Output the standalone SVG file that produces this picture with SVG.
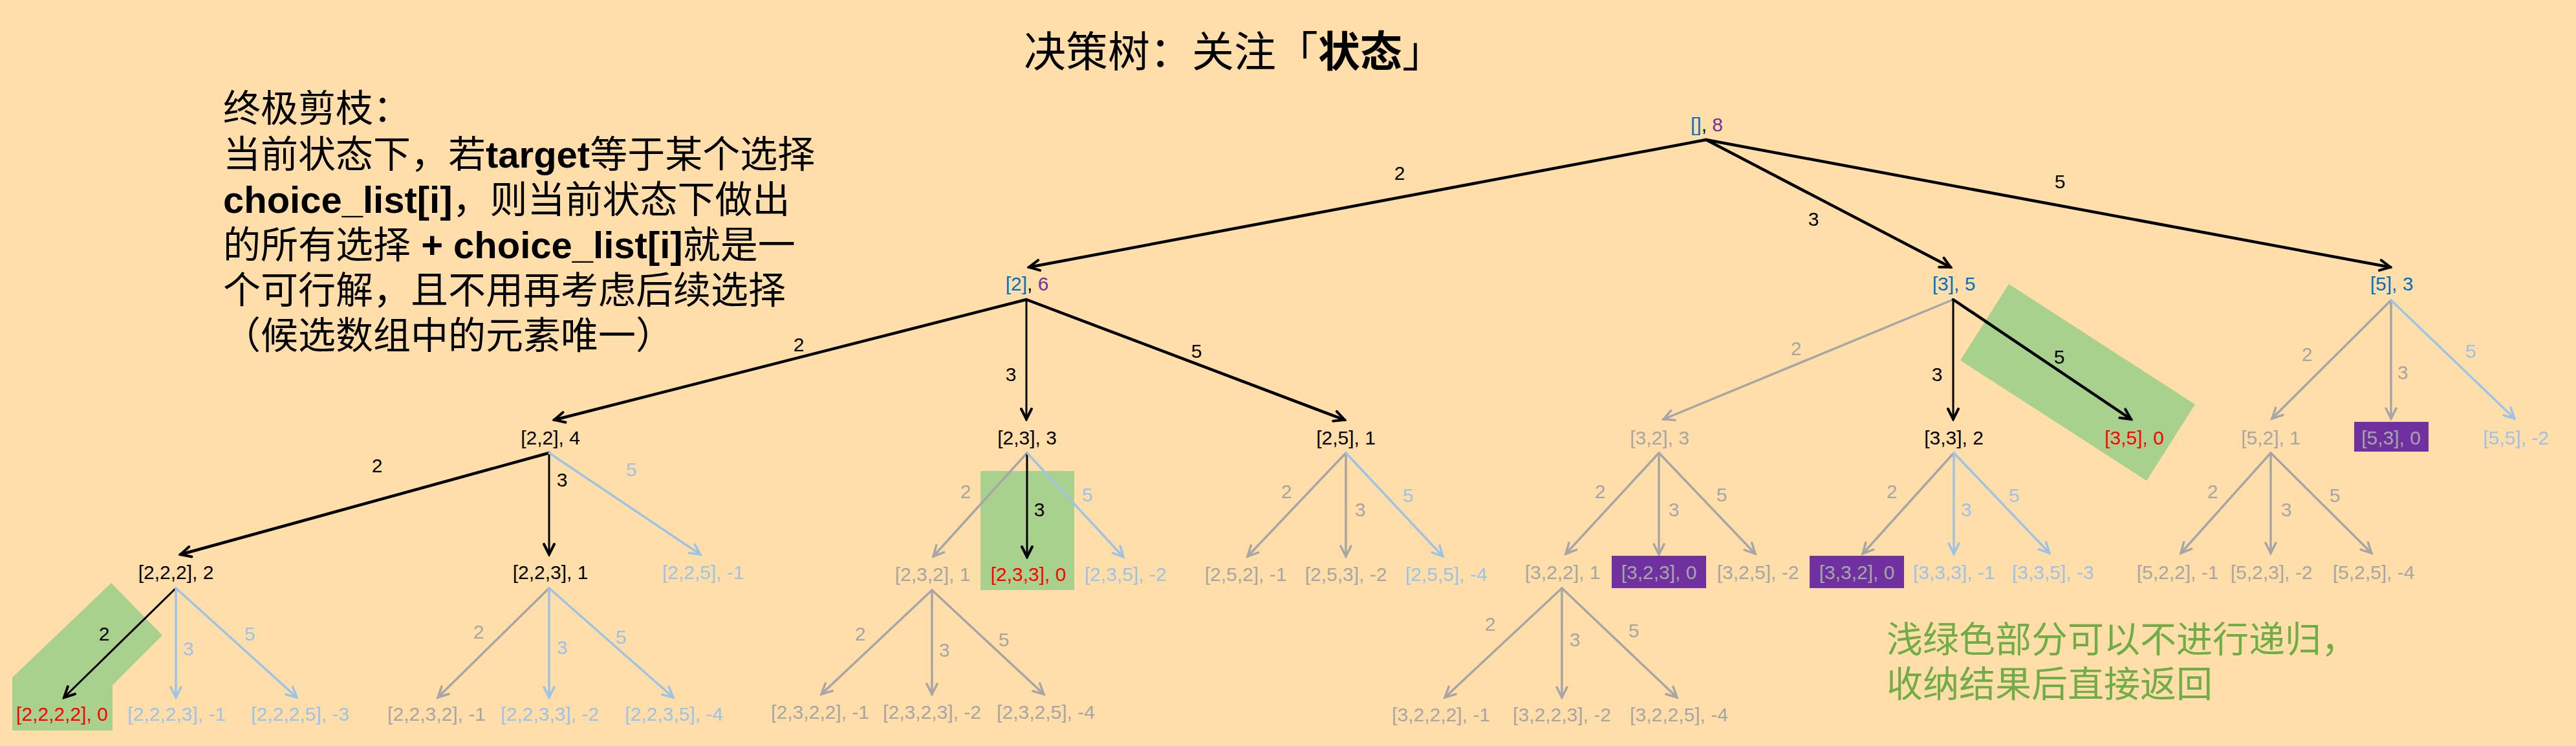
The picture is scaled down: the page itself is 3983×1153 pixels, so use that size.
<svg xmlns="http://www.w3.org/2000/svg" width="3983" height="1153" viewBox="0 0 3983 1153">
<style>
.t{font-family:"Liberation Sans",Arial,sans-serif;font-size:30px;text-anchor:middle}
.cj{font-family:"Liberation Sans","Noto Sans CJK SC",sans-serif}
.k{fill:#000}.g{fill:#A6A6A6}.b{fill:#9DC3E6}.r{fill:#FF0000}.bl{fill:#0070C0}.p{fill:#7030A0}
.e{fill:none;stroke-linecap:round}
.ek{stroke:#000;stroke-width:3}.ekw{stroke:#000;stroke-width:4.5}
.eg{stroke:#A6A6A6;stroke-width:3.5}.eb{stroke:#9DC3E6;stroke-width:3.5}
.box{fill:#7030A0}
.hl{fill:#A9D18E}
</style>
<defs>
<marker id="ak" markerUnits="userSpaceOnUse" markerWidth="24" markerHeight="24" viewBox="0 0 24 24" refX="21" refY="12" orient="auto"><path d="M5,4 L21,12 L5,20" fill="none" stroke="#000" stroke-width="4" stroke-linecap="round" stroke-linejoin="miter"/></marker>
<marker id="ag" markerUnits="userSpaceOnUse" markerWidth="24" markerHeight="24" viewBox="0 0 24 24" refX="21" refY="12" orient="auto"><path d="M5,4 L21,12 L5,20" fill="none" stroke="#A6A6A6" stroke-width="3.5" stroke-linecap="round"/></marker>
<marker id="ab" markerUnits="userSpaceOnUse" markerWidth="24" markerHeight="24" viewBox="0 0 24 24" refX="21" refY="12" orient="auto"><path d="M5,4 L21,12 L5,20" fill="none" stroke="#9DC3E6" stroke-width="3.5" stroke-linecap="round"/></marker>
</defs>
<rect x="0" y="0" width="3983" height="1153" fill="#FFDEA9"/>

<g id="highlights">
<polygon class="hl" points="172,901 251,982 174,1059 174,1129 19,1129 19,1047"/>
<rect class="hl" x="1516" y="728" width="145" height="184"/>
<polygon class="hl" points="3106,439 3394,625 3319,743 3031,557"/>
</g>

<g id="title">
<text class="cj" x="1583" y="103" font-size="65" fill="#000">决策树：关注「<tspan font-weight="bold">状态</tspan>」</text>
</g>

<g id="note-left" class="cj" font-size="58" fill="#000">
<text x="345" y="188">终极剪枝：</text>
<text x="345" y="259">当前状态下，若<tspan font-weight="bold">target</tspan>等于某个选择</text>
<text x="345" y="329"><tspan font-weight="bold">choice_list[i]</tspan>，则当前状态下做出</text>
<text x="345" y="399">的所有选择<tspan font-weight="bold"> + choice_list[i]</tspan>就是一</text>
<text x="345" y="469">个可行解，且不用再考虑后续选择</text>
<text x="345" y="539">（候选数组中的元素唯一）</text>
</g>

<g id="note-right" class="cj" font-size="56" fill="#70AD47">
<text x="2917" y="1008">浅绿色部分可以不进行递归，</text>
<text x="2917" y="1077">收纳结果后直接返回</text>
</g>

<g id="connectors">
<line class="e ekw" x1="2638" y1="216" x2="1591" y2="413" marker-end="url(#ak)"/>
<line class="e ekw" x1="2638" y1="216" x2="3016" y2="413" marker-end="url(#ak)"/>
<line class="e ekw" x1="2638" y1="216" x2="3696" y2="413" marker-end="url(#ak)"/>
<line class="e ekw" x1="1587" y1="463" x2="857" y2="649" marker-end="url(#ak)"/>
<line class="e ek" x1="1587" y1="463" x2="1587" y2="648" marker-end="url(#ak)"/>
<line class="e ekw" x1="1587" y1="463" x2="2079" y2="649" marker-end="url(#ak)"/>
<line class="e eg" x1="3020" y1="463" x2="2572" y2="648" marker-end="url(#ag)"/>
<line class="e ek" x1="3020" y1="463" x2="3020" y2="648" marker-end="url(#ak)"/>
<line class="e ekw" x1="3020" y1="463" x2="3295" y2="648" marker-end="url(#ak)"/>
<line class="e eg" x1="3697" y1="464" x2="3513" y2="647" marker-end="url(#ag)"/>
<line class="e eg" x1="3697" y1="464" x2="3697" y2="647" marker-end="url(#ag)"/>
<line class="e eb" x1="3697" y1="464" x2="3888" y2="647" marker-end="url(#ab)"/>
<line class="e ekw" x1="849" y1="700" x2="279" y2="857" marker-end="url(#ak)"/>
<line class="e ek" x1="849" y1="700" x2="849" y2="857" marker-end="url(#ak)"/>
<line class="e eb" x1="849" y1="700" x2="1083" y2="857" marker-end="url(#ab)"/>
<line class="e eg" x1="1588" y1="700" x2="1443" y2="860" marker-end="url(#ag)"/>
<line class="e ek" x1="1588" y1="700" x2="1588" y2="861" marker-end="url(#ak)"/>
<line class="e eb" x1="1588" y1="700" x2="1737" y2="861" marker-end="url(#ab)"/>
<line class="e eg" x1="2081" y1="700" x2="1929" y2="860" marker-end="url(#ag)"/>
<line class="e eg" x1="2081" y1="700" x2="2081" y2="860" marker-end="url(#ag)"/>
<line class="e eb" x1="2081" y1="700" x2="2231" y2="860" marker-end="url(#ab)"/>
<line class="e eg" x1="2565" y1="700" x2="2421" y2="856" marker-end="url(#ag)"/>
<line class="e eg" x1="2565" y1="700" x2="2565" y2="857" marker-end="url(#ag)"/>
<line class="e eg" x1="2565" y1="700" x2="2714" y2="856" marker-end="url(#ag)"/>
<line class="e eg" x1="3021" y1="700" x2="2880" y2="856" marker-end="url(#ag)"/>
<line class="e eb" x1="3021" y1="700" x2="3021" y2="856" marker-end="url(#ab)"/>
<line class="e eb" x1="3021" y1="700" x2="3169" y2="855" marker-end="url(#ab)"/>
<line class="e eg" x1="3511" y1="700" x2="3372" y2="855" marker-end="url(#ag)"/>
<line class="e eg" x1="3511" y1="700" x2="3511" y2="855" marker-end="url(#ag)"/>
<line class="e eg" x1="3511" y1="700" x2="3667" y2="855" marker-end="url(#ag)"/>
<line class="e ek" x1="272" y1="909" x2="99" y2="1078" marker-end="url(#ak)"/>
<line class="e eb" x1="272" y1="909" x2="272" y2="1078" marker-end="url(#ab)"/>
<line class="e eb" x1="272" y1="909" x2="459" y2="1078" marker-end="url(#ab)"/>
<line class="e eg" x1="849" y1="909" x2="677" y2="1078" marker-end="url(#ag)"/>
<line class="e eb" x1="849" y1="909" x2="849" y2="1078" marker-end="url(#ab)"/>
<line class="e eb" x1="849" y1="909" x2="1041" y2="1078" marker-end="url(#ab)"/>
<line class="e eg" x1="1441" y1="912" x2="1270" y2="1073" marker-end="url(#ag)"/>
<line class="e eg" x1="1441" y1="912" x2="1441" y2="1073" marker-end="url(#ag)"/>
<line class="e eg" x1="1441" y1="912" x2="1614" y2="1073" marker-end="url(#ag)"/>
<line class="e eg" x1="2415" y1="909" x2="2234" y2="1078" marker-end="url(#ag)"/>
<line class="e eg" x1="2415" y1="909" x2="2415" y2="1078" marker-end="url(#ag)"/>
<line class="e eg" x1="2415" y1="909" x2="2593" y2="1078" marker-end="url(#ag)"/>

<g id="edge-labels" class="t">
<text class="k" x="2164" y="278">2</text>
<text class="k" x="2804" y="349">3</text>
<text class="k" x="3185" y="291">5</text>
<text class="k" x="1235" y="543">2</text>
<text class="k" x="1563" y="589">3</text>
<text class="k" x="1850" y="553">5</text>
<text class="g" x="2777" y="549">2</text>
<text class="k" x="2995" y="589">3</text>
<text class="k" x="3184" y="562">5</text>
<text class="g" x="3567" y="558">2</text>
<text class="g" x="3715" y="586">3</text>
<text class="b" x="3820" y="553">5</text>
<text class="k" x="583" y="730">2</text>
<text class="k" x="869" y="752">3</text>
<text class="b" x="976" y="736">5</text>
<text class="g" x="1493" y="770">2</text>
<text class="k" x="1607" y="798">3</text>
<text class="b" x="1681" y="775">5</text>
<text class="g" x="1989" y="770">2</text>
<text class="g" x="2103" y="798">3</text>
<text class="b" x="2177" y="776">5</text>
<text class="g" x="2474" y="770">2</text>
<text class="g" x="2588" y="798">3</text>
<text class="g" x="2662" y="775">5</text>
<text class="g" x="2925" y="770">2</text>
<text class="b" x="3040" y="798">3</text>
<text class="b" x="3114" y="776">5</text>
<text class="g" x="3421" y="770">2</text>
<text class="g" x="3535" y="798">3</text>
<text class="g" x="3610" y="776">5</text>
<text class="k" x="161" y="990">2</text>
<text class="b" x="291" y="1013">3</text>
<text class="b" x="386" y="990">5</text>
<text class="g" x="740" y="987">2</text>
<text class="b" x="869" y="1011">3</text>
<text class="b" x="960" y="995">5</text>
<text class="g" x="1330" y="990">2</text>
<text class="g" x="1460" y="1015">3</text>
<text class="g" x="1552" y="999">5</text>
<text class="g" x="2304" y="975">2</text>
<text class="g" x="2435" y="999">3</text>
<text class="g" x="2526" y="985">5</text>
</g>
</g>

<g id="nodes" class="t">
<g id="n-root"><text x="2639" y="203"><tspan class="bl">[]</tspan><tspan class="k">, </tspan><tspan class="p">8</tspan></text></g>
<g id="n-2"><text x="1588" y="449"><tspan class="bl">[2]</tspan><tspan class="k">, </tspan><tspan class="p">6</tspan></text></g>
<g id="n-3"><text class="bl" x="3021" y="449">[3], 5</text></g>
<g id="n-5"><text class="bl" x="3698" y="449">[5], 3</text></g>

<g id="n-22"><text class="k" x="851" y="687">[2,2], 4</text></g>
<g id="n-23"><text class="k" x="1588" y="687">[2,3], 3</text></g>
<g id="n-25"><text class="k" x="2081" y="687">[2,5], 1</text></g>
<g id="n-32"><text class="g" x="2566" y="687">[3,2], 3</text></g>
<g id="n-33"><text class="k" x="3021" y="687">[3,3], 2</text></g>
<g id="n-35"><text class="r" x="3300" y="687">[3,5], 0</text></g>
<g id="n-52"><text class="g" x="3511" y="687">[5,2], 1</text></g>
<g id="n-53"><rect class="box" x="3640" y="652" width="115" height="46"/><text class="g" x="3697" y="687">[5,3], 0</text></g>
<g id="n-55"><text class="b" x="3890" y="687">[5,5], -2</text></g>

<g id="n-222"><text class="k" x="272" y="895">[2,2,2], 2</text></g>
<g id="n-223"><text class="k" x="851" y="895">[2,2,3], 1</text></g>
<g id="n-225"><text class="b" x="1087" y="895">[2,2,5], -1</text></g>
<g id="n-232"><text class="g" x="1442" y="898">[2,3,2], 1</text></g>
<g id="n-233"><text class="r" x="1590" y="898">[2,3,3], 0</text></g>
<g id="n-235"><text class="b" x="1740" y="898">[2,3,5], -2</text></g>
<g id="n-252"><text class="g" x="1926" y="898">[2,5,2], -1</text></g>
<g id="n-253"><text class="g" x="2081" y="898">[2,5,3], -2</text></g>
<g id="n-255"><text class="b" x="2236" y="898">[2,5,5], -4</text></g>
<g id="n-322"><text class="g" x="2416" y="895">[3,2,2], 1</text></g>
<g id="n-323"><rect class="box" x="2492" y="859" width="146" height="50"/><text class="g" x="2565" y="895">[3,2,3], 0</text></g>
<g id="n-325"><text class="g" x="2718" y="895">[3,2,5], -2</text></g>
<g id="n-332"><rect class="box" x="2798" y="859" width="146" height="50"/><text class="g" x="2871" y="895">[3,3,2], 0</text></g>
<g id="n-333"><text class="b" x="3021" y="895">[3,3,3], -1</text></g>
<g id="n-335"><text class="b" x="3174" y="895">[3,3,5], -3</text></g>
<g id="n-522"><text class="g" x="3367" y="895">[5,2,2], -1</text></g>
<g id="n-523"><text class="g" x="3512" y="895">[5,2,3], -2</text></g>
<g id="n-525"><text class="g" x="3670" y="895">[5,2,5], -4</text></g>

<g id="n-2222"><text class="r" x="96" y="1114">[2,2,2,2], 0</text></g>
<g id="n-2223"><text class="b" x="273" y="1114">[2,2,2,3], -1</text></g>
<g id="n-2225"><text class="b" x="464" y="1114">[2,2,2,5], -3</text></g>
<g id="n-2232"><text class="g" x="675" y="1114">[2,2,3,2], -1</text></g>
<g id="n-2233"><text class="b" x="850" y="1114">[2,2,3,3], -2</text></g>
<g id="n-2235"><text class="b" x="1042" y="1114">[2,2,3,5], -4</text></g>
<g id="n-2322"><text class="g" x="1268" y="1111">[2,3,2,2], -1</text></g>
<g id="n-2323"><text class="g" x="1441" y="1111">[2,3,2,3], -2</text></g>
<g id="n-2325"><text class="g" x="1617" y="1111">[2,3,2,5], -4</text></g>
<g id="n-3222"><text class="g" x="2228" y="1115">[3,2,2,2], -1</text></g>
<g id="n-3223"><text class="g" x="2415" y="1115">[3,2,2,3], -2</text></g>
<g id="n-3225"><text class="g" x="2596" y="1115">[3,2,2,5], -4</text></g>
</g>
</svg>
